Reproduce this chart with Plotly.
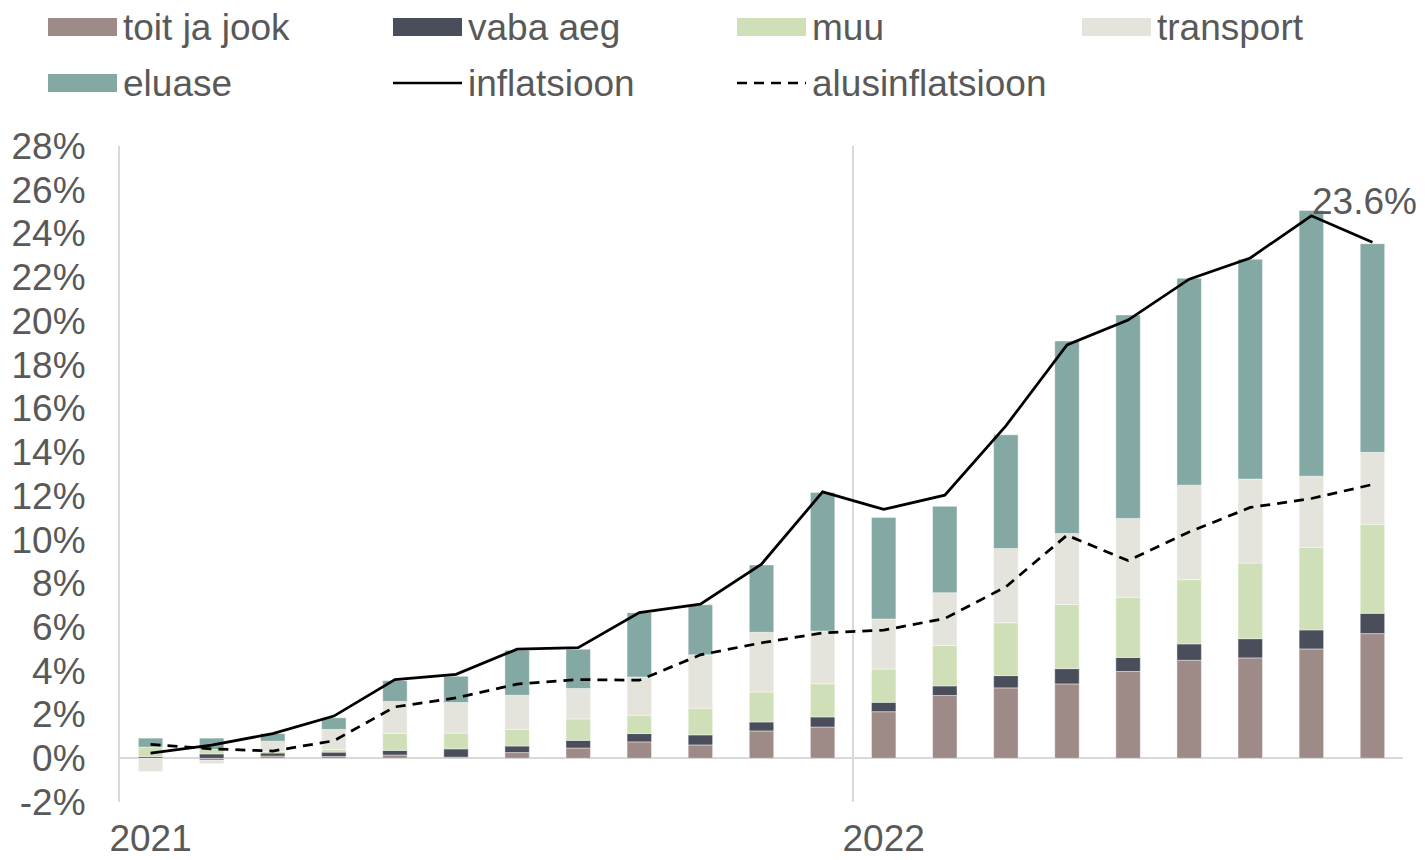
import plotly.graph_objects as go

FONT = "Liberation Sans, Arial, sans-serif"
GREY_TEXT = "#595959"
GREY_LINE = "#D9D9D9"

# ── Data (contributions to annual inflation, percentage points) ──────────────

months = [
    "2021-01", "2021-02", "2021-03", "2021-04", "2021-05", "2021-06",
    "2021-07", "2021-08", "2021-09", "2021-10", "2021-11", "2021-12",
    "2022-01", "2022-02", "2022-03", "2022-04", "2022-05", "2022-06",
    "2022-07", "2022-08", "2022-09",
]
toit_ja_jook = [0.0, -0.1, 0.1, 0.08, 0.15, 0.05, 0.26, 0.47, 0.75, 0.61, 1.25,
                1.43, 2.13, 2.87, 3.22, 3.4, 3.97, 4.48, 4.59, 5.0, 5.7]
vaba_aeg = [0.08, 0.2, 0.14, 0.2, 0.21, 0.38, 0.3, 0.35, 0.38, 0.46, 0.41,
            0.46, 0.43, 0.44, 0.56, 0.7, 0.64, 0.75, 0.88, 0.87, 0.93]
muu = [0.43, 0.2, 0.08, 0.12, 0.78, 0.72, 0.76, 0.98, 0.84, 1.22, 1.37,
       1.52, 1.52, 1.85, 2.42, 2.93, 2.75, 2.94, 3.46, 3.78, 4.07]
transport = [-0.61, -0.15, 0.46, 0.92, 1.46, 1.4, 1.56, 1.39, 1.75, 2.44, 2.73,
             2.41, 2.29, 2.41, 3.39, 3.25, 3.61, 4.32, 3.84, 3.25, 3.29]
eluase = [0.41, 0.52, 0.35, 0.53, 0.95, 1.2, 2.06, 1.8, 2.94, 2.29, 3.08,
          6.33, 4.64, 3.95, 5.2, 8.8, 9.3, 9.46, 10.05, 12.15, 9.54]
inflatsioon = [0.24, 0.6, 1.13, 1.93, 3.6, 3.84, 4.99, 5.06, 6.66, 7.05, 8.88,
               12.18, 11.38, 12.03, 15.2, 18.9, 20.04, 21.91, 22.88, 24.81, 23.6]
alusinflatsioon = [0.63, 0.43, 0.33, 0.8, 2.35, 2.76, 3.39, 3.6, 3.57, 4.73, 5.28,
                   5.73, 5.86, 6.39, 7.84, 10.2, 9.04, 10.35, 11.47, 11.88, 12.52]

y_ticks = list(range(-2, 30, 2))
y_tick_labels = [f"{v}%" for v in y_ticks]

BARS = [
    ("toit ja jook", toit_ja_jook, "#9E8A87"),
    ("vaba aeg", vaba_aeg, "#4A4E5A"),
    ("muu", muu, "#CFE0B8"),
    ("transport", transport, "#E4E4DD"),
    ("eluase", eluase, "#84A8A3"),
]
LINES = [
    ("inflatsioon", inflatsioon, "solid"),
    ("alusinflatsioon", alusinflatsioon, "10px,7px"),
]

# ── Geometry (page px); the html body adds an 8px margin around the figure ───

PAGE_W, PAGE_H = 1425, 860
BODY = 8
W, H = PAGE_W - BODY, PAGE_H - BODY
PLOT_L, PLOT_R, PLOT_T, PLOT_B = 120, 1403, 146, 802


def px_x(x):
    return (x - PLOT_L) / (PLOT_R - PLOT_L)


def px_y(y):
    return (PLOT_B - y) / (PLOT_B - PLOT_T)


x = list(range(len(months)))
year_ticks = [i for i, m in enumerate(months) if m.endswith("-01")]
year_labels = [months[i][:4] for i in year_ticks]
year_bounds = [i - 0.5 for i in year_ticks[1:]]

fig = go.Figure()
for name, vals, color in BARS:
    fig.add_trace(go.Bar(
        x=x, y=vals, name=name, width=0.4,
        marker=dict(color=color, line=dict(width=0.6, color="rgba(255,255,255,0.7)")),
        showlegend=False,
    ))
for name, vals, dash in LINES:
    fig.add_trace(go.Scatter(
        x=x, y=vals, name=name, mode="lines",
        line=dict(color="black", width=2.75, dash=dash),
        showlegend=False,
    ))

# value label on the last inflation point
fig.add_annotation(
    x=x[-1], y=inflatsioon[-1], text=f"{inflatsioon[-1]:.1f}%",
    showarrow=False, xanchor="center", yanchor="middle",
    xshift=-8, yshift=41,
    font=dict(size=37, color=GREY_TEXT, family=FONT),
)

# ── Legend drawn by hand: 4 columns x 2 rows, wide swatches ──────────────────

legend_cols = [48, 393, 737, 1082]
legend_rows = [27, 83]
legend_items = [(n, "bar", c) for n, _, c in BARS] + [(n, "line", d) for n, _, d in LINES]
shapes = []
for k, (name, kind, style) in enumerate(legend_items):
    x0 = legend_cols[k % 4]
    yc = legend_rows[k // 4]
    if kind == "bar":
        shapes.append(dict(
            type="rect", xref="paper", yref="paper",
            x0=px_x(x0), x1=px_x(x0 + 69), y0=px_y(yc + 9), y1=px_y(yc - 9),
            fillcolor=style, line=dict(width=0),
        ))
    else:
        shapes.append(dict(
            type="line", xref="paper", yref="paper",
            x0=px_x(x0), x1=px_x(x0 + 69), y0=px_y(yc), y1=px_y(yc),
            line=dict(color="black", width=2.5, dash=style),
        ))
    fig.add_annotation(
        xref="paper", yref="paper", x=px_x(x0 + 73), y=px_y(yc),
        text=name, showarrow=False, xanchor="left", yanchor="middle",
        font=dict(size=37, color=GREY_TEXT, family=FONT),
    )

fig.update_layout(
    width=W, height=H,
    barmode="relative",
    plot_bgcolor="white", paper_bgcolor="white",
    font=dict(family=FONT, size=37, color=GREY_TEXT),
    margin=dict(l=PLOT_L - BODY, r=PAGE_W - PLOT_R, t=PLOT_T - BODY,
                b=PAGE_H - PLOT_B, pad=0),
    showlegend=False,
    shapes=shapes,
    xaxis=dict(
        range=[-0.5, len(months) - 0.5],
        tickvals=year_ticks, ticktext=year_labels,
        showgrid=False, zeroline=False, showline=False, ticks="",
        ticklabelstandoff=11, automargin=False,
        minor=dict(tickvals=year_bounds, showgrid=True,
                   gridcolor=GREY_LINE, gridwidth=2, ticks=""),
    ),
    yaxis=dict(
        range=[-2, 28],
        tickvals=y_ticks, ticktext=y_tick_labels,
        showgrid=False, ticks="",
        zeroline=True, zerolinecolor=GREY_LINE, zerolinewidth=2,
        showline=True, linecolor=GREY_LINE, linewidth=2,
        ticklabelstandoff=25, automargin=False,
    ),
)

fig.write_html("out.html")
